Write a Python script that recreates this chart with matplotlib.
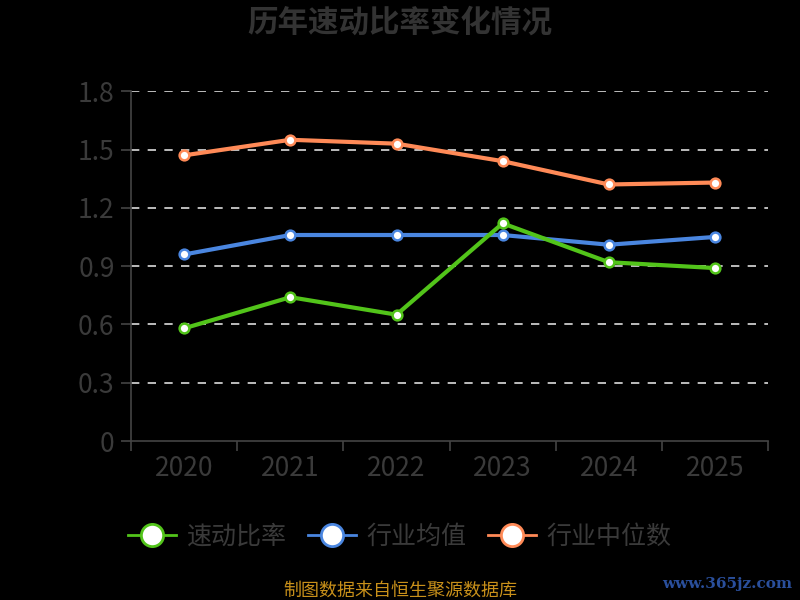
import matplotlib
matplotlib.use('Agg')
import matplotlib.pyplot as plt

plt.rcParams['font.family'] = ['Noto Sans CJK SC', 'DejaVu Sans']

years = ['2020', '2021', '2022', '2023', '2024', '2025']
quick_ratio = [0.58, 0.74, 0.65, 1.12, 0.92, 0.89]
industry_mean = [0.96, 1.06, 1.06, 1.06, 1.01, 1.05]
industry_median = [1.47, 1.55, 1.53, 1.44, 1.32, 1.33]
series_names = ['速动比率', '行业均值', '行业中位数']
colors = ['#52c41a', '#4a86e0', '#ff8a57']
yticks = [0, 0.3, 0.6, 0.9, 1.2, 1.5, 1.8]
ytick_labels = ['0', '0.3', '0.6', '0.9', '1.2', '1.5', '1.8']

text_color = '#3a3a3a'
axis_color = '#444444'

fig = plt.figure(figsize=(8, 6), dpi=100, facecolor='black')
ax = fig.add_axes([0.164, 0.265, 0.796, 0.583], facecolor='black')

x = list(range(len(years)))
series = [quick_ratio, industry_mean, industry_median]
# orange first, green last so green sits on top
for order in [2, 1, 0]:
    ax.plot(x, series[order], color=colors[order], linewidth=3, marker='o',
            markersize=7, markerfacecolor='white', markeredgecolor=colors[order],
            markeredgewidth=1.8, zorder=3 + (2 - order))

ax.set_xlim(-0.5, len(years) - 0.5)
ax.set_ylim(0, 1.8)
ax.set_yticks(yticks)
ax.set_yticklabels(ytick_labels)
ax.set_xticks(x)
ax.set_xticklabels(years)
ax.set_xticks([i - 0.5 for i in range(len(years) + 1)], minor=True)
ax.tick_params(axis='x', which='major', length=0, pad=10, labelsize=19, labelcolor=text_color)
ax.tick_params(axis='x', which='minor', length=7, color=axis_color, width=1.2)
ax.tick_params(axis='y', length=7, color=axis_color, width=1.2, pad=5,
               labelsize=19, labelcolor=text_color)

for yv in yticks[1:]:
    ax.axhline(yv, color='#dddddd', linewidth=1.2, linestyle=(0, (5, 5)), zorder=1)

for side in ['top', 'right']:
    ax.spines[side].set_visible(False)
for side in ['left', 'bottom']:
    ax.spines[side].set_color(axis_color)
    ax.spines[side].set_linewidth(1.2)

fig.text(0.5, 0.962, '历年速动比率变化情况', ha='center', va='center',
         fontsize=22, fontweight='bold', color='#333333')

leg_handles = []
for i in range(len(series_names)):
    lh, = ax.plot([], [], color=colors[i], linewidth=2, marker='o', markersize=16,
                  markerfacecolor='white', markeredgecolor=colors[i], markeredgewidth=2)
    leg_handles.append(lh)
fig.legend(leg_handles, series_names, loc='center', bbox_to_anchor=(0.5, 0.105), ncol=3,
           frameon=False, fontsize=18, labelcolor=text_color, handlelength=1.9,
           columnspacing=0.85, handletextpad=0.45)

fig.text(0.5, 0.016, '制图数据来自恒生聚源数据库', ha='center', va='center',
         fontsize=13, color='#c8901a')
fig.text(0.99, 0.027, 'www.365jz.com', ha='right', va='center', fontsize=11,
         fontweight='bold', color='#2a4f9c', family='DejaVu Serif')

fig.savefig('out.png', dpi=100, facecolor='black')
